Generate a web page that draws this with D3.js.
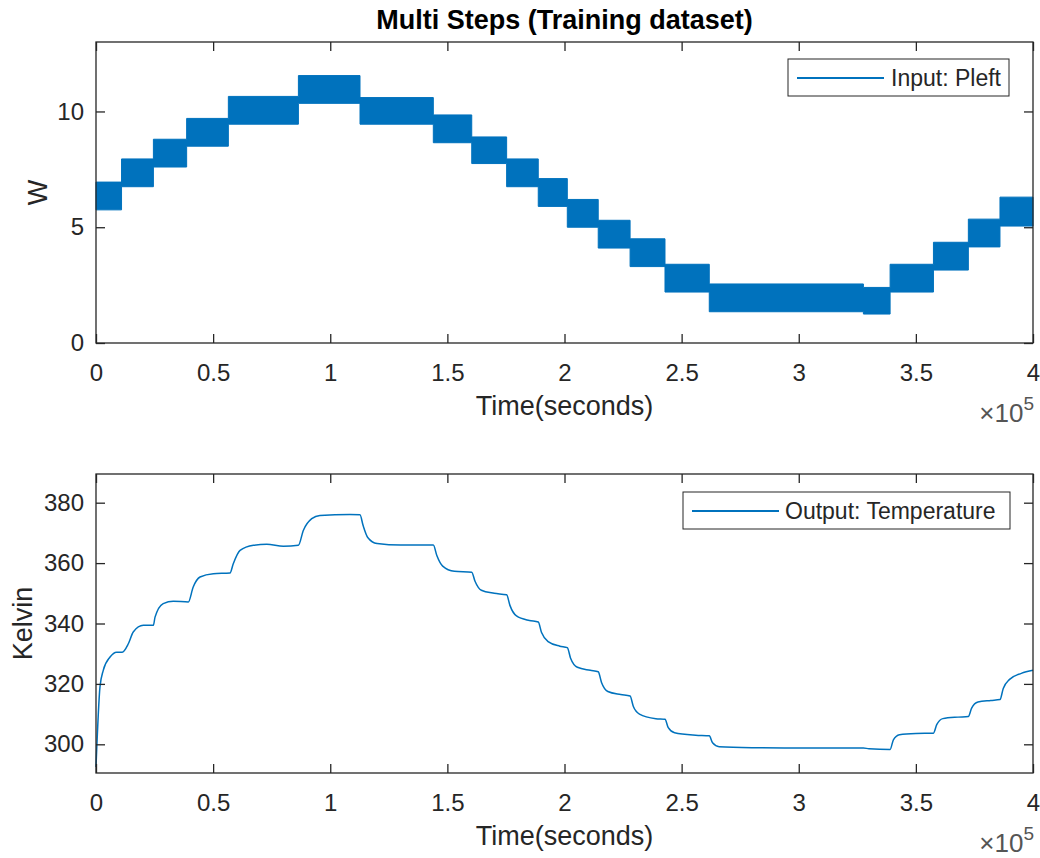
<!DOCTYPE html>
<html>
<head>
<meta charset="utf-8">
<script src="https://cdn.jsdelivr.net/npm/d3@7"></script>
<style>
  body { margin: 0; background: #fff; }
  text { font-family: "Liberation Sans", Arial, Helvetica, sans-serif; fill: #262626; }
</style>
</head>
<body>
<div id="chart"></div>
<script>
// ---- data ----
var chartTitle = "Multi Steps (Training dataset)";
var xTicks = [0, 50000, 100000, 150000, 200000, 250000, 300000, 350000, 400000];

// input Pleft: noisy steps, kept as a band (low / high edge) per step
var pleftStart = [0, 10900, 24500, 38700, 56500, 86400, 112700, 144000, 160400, 175300, 188800,
                  201200, 214400, 228000, 242900, 261800, 327600, 339000, 357500, 372400, 385900, 400000];
var pleftLow  = [5.75, 6.75, 7.6, 8.5, 9.45, 10.35, 9.45, 8.65, 7.75, 6.75, 5.9,
                 5.0, 4.1, 3.3, 2.2, 1.35, 1.25, 2.2, 3.15, 4.15, 5.05, 5.05];
var pleftHigh = [6.95, 7.95, 8.8, 9.7, 10.65, 11.55, 10.6, 9.85, 8.9, 7.95, 7.1,
                 6.2, 5.3, 4.5, 3.4, 2.55, 2.4, 3.4, 4.35, 5.35, 6.3, 6.3];
var wTicks = [0, 5, 10];

// output temperature
var tempTime = [0, 1700, 3100, 6000, 8800, 11200, 13800, 15900, 20200, 24500, 25200, 28700, 33000, 39400,
                41500, 44400, 50100, 57200, 58600, 61500, 67200, 72900, 80000, 86400, 88500, 92100, 95600,
                108400, 112700, 114000, 116000, 120000, 130000, 144000, 145500, 148000, 153000, 160400,
                161800, 164500, 170000, 175300, 176700, 179500, 185000, 188800, 190200, 193000, 198000,
                201200, 202600, 205500, 211000, 214400, 215800, 218500, 224000, 228000, 229400, 232000,
                239000, 242900, 244300, 247000, 256000, 261800, 263200, 266000, 280000, 300000, 327600,
                330000, 339000, 340400, 343000, 350000, 357500, 358900, 361500, 368000, 372400, 373800,
                376500, 382000, 385900, 387300, 390000, 395000, 400000];
var tempValue = [292.5, 319, 324.5, 328.9, 330.5, 330.5, 333.3, 337.2, 339.4, 339.4, 342.1, 346.6, 347.4, 347.1,
                 352.1, 355.4, 356.5, 356.7, 359.8, 364.2, 365.9, 366.2, 365.6, 365.9, 370.8, 374.7, 375.8,
                 376.1, 376.0, 372.5, 368.5, 366.5, 366.0, 366.0, 362.5, 359.0, 357.3, 357.0,
                 354.0, 351.0, 350.0, 349.5, 346.0, 342.5, 341.0, 340.5, 337.0, 334.0, 332.5,
                 332.0, 328.5, 325.5, 324.5, 324.0, 320.5, 317.5, 316.5, 316.0, 312.5, 310.0,
                 308.5, 308.3, 305.5, 303.8, 303.0, 302.8, 300.5, 299.2, 298.9, 298.8, 298.8,
                 298.5, 298.3, 301.5, 303.2, 303.6, 303.7, 306.5, 308.5, 309.0, 309.2, 312.0,
                 314.0, 314.5, 314.8, 318.5, 321.5, 323.5, 324.5];
var kTicks = [300, 320, 340, 360, 380];

var lineColor = "#0072BD";
var axisColor = "#262626";

var svg = d3.select("#chart").append("svg")
    .attr("width", 1040)
    .attr("height", 858);

svg.append("rect").attr("width", 1040).attr("height", 858).attr("fill", "#fff");

// title
svg.append("text")
    .attr("x", 564.5).attr("y", 29)
    .attr("text-anchor", "middle")
    .style("font-size", "27px")
    .style("font-weight", "bold")
    .style("fill", "#000")
    .text(chartTitle);

function drawPanel(box, yDomain, yTickValues, yLabel, yLabelX) {
    var x = d3.scaleLinear().domain([0, 400000]).range([box.left, box.right]);
    var y = d3.scaleLinear().domain(yDomain).range([box.bottom, box.top]);
    var g = svg.append("g");

    // bottom axis with labels
    var bottom = g.append("g")
        .attr("transform", "translate(0," + box.bottom + ")")
        .call(d3.axisBottom(x).tickValues(xTicks).tickSizeInner(-9).tickSizeOuter(0).tickPadding(21)
            .tickFormat(function (d) { return d / 1e5; }));
    // top ticks only
    var top = g.append("g")
        .attr("transform", "translate(0," + box.top + ")")
        .call(d3.axisTop(x).tickValues(xTicks).tickSizeInner(-9).tickSizeOuter(0).tickFormat(""));
    var left = g.append("g")
        .attr("transform", "translate(" + box.left + ",0)")
        .call(d3.axisLeft(y).tickValues(yTickValues).tickSizeInner(-9).tickSizeOuter(0).tickPadding(12));
    var right = g.append("g")
        .attr("transform", "translate(" + box.right + ",0)")
        .call(d3.axisRight(y).tickValues(yTickValues).tickSizeInner(-9).tickSizeOuter(0).tickFormat(""));

    [bottom, top, left, right].forEach(function (a) {
        a.select(".domain").remove();
        a.selectAll("line").attr("stroke", axisColor).attr("stroke-width", 1.3);
        a.selectAll("text").style("font-size", "24px").style("fill", axisColor)
            .style("font-family", "'Liberation Sans', Arial, Helvetica, sans-serif");
    });

    // frame
    g.append("rect")
        .attr("x", box.left).attr("y", box.top)
        .attr("width", box.right - box.left).attr("height", box.bottom - box.top)
        .attr("fill", "none").attr("stroke", axisColor).attr("stroke-width", 1.3);

    // x label
    g.append("text")
        .attr("x", (box.left + box.right) / 2).attr("y", box.bottom + 72)
        .attr("text-anchor", "middle")
        .style("font-size", "27px")
        .text("Time(seconds)");

    // x10^5
    var mult = g.append("text")
        .attr("x", box.right + 1).attr("y", box.bottom + 79)
        .attr("text-anchor", "end")
        .style("font-size", "26px")
        .style("fill", "#555");
    mult.append("tspan").text("\u00d710");
    mult.append("tspan").attr("dy", -12).style("font-size", "19px").text("5");

    // y label
    g.append("text")
        .attr("transform", "translate(" + yLabelX + "," + ((box.top + box.bottom) / 2) + ") rotate(-90)")
        .attr("text-anchor", "middle")
        .style("font-size", "27px")
        .text(yLabel);

    return { x: x, y: y, g: g };
}

// ---- top panel: input ----
var p1 = drawPanel({ left: 96, right: 1033, top: 42, bottom: 343 }, [0, 13], wTicks, "W", 47);

var band = pleftStart.map(function (t, i) { return { t: t, lo: pleftLow[i], hi: pleftHigh[i] }; });
p1.g.insert("path", ":first-child")
    .datum(band)
    .attr("fill", lineColor)
    .attr("stroke", lineColor)
    .attr("stroke-width", 1)
    .attr("d", d3.area()
        .curve(d3.curveStepAfter)
        .x(function (d) { return p1.x(d.t); })
        .y0(function (d) { return p1.y(d.lo); })
        .y1(function (d) { return p1.y(d.hi); }));

// legend
p1.g.append("rect").attr("x", 788).attr("y", 59).attr("width", 221).attr("height", 37)
    .attr("fill", "#fff").attr("stroke", axisColor).attr("stroke-width", 1);
p1.g.append("line").attr("x1", 797).attr("x2", 884).attr("y1", 78).attr("y2", 78)
    .attr("stroke", lineColor).attr("stroke-width", 2);
p1.g.append("text").attr("x", 891).attr("y", 86).style("font-size", "23px").text("Input: Pleft");

// ---- bottom panel: output ----
var p2 = drawPanel({ left: 96, right: 1033, top: 474, bottom: 773 }, [290.5, 389.5], kTicks, "Kelvin", 32);

var temp = tempTime.map(function (t, i) { return { t: t, v: tempValue[i] }; });
p2.g.insert("path", ":first-child")
    .datum(temp)
    .attr("fill", "none")
    .attr("stroke", lineColor)
    .attr("stroke-width", 1.5)
    .attr("d", d3.line()
        .curve(d3.curveMonotoneX)
        .x(function (d) { return p2.x(d.t); })
        .y(function (d) { return p2.y(d.v); }));

p2.g.append("rect").attr("x", 683).attr("y", 492).attr("width", 327).attr("height", 37)
    .attr("fill", "#fff").attr("stroke", axisColor).attr("stroke-width", 1);
p2.g.append("line").attr("x1", 692).attr("x2", 779).attr("y1", 511).attr("y2", 511)
    .attr("stroke", lineColor).attr("stroke-width", 2);
p2.g.append("text").attr("x", 785).attr("y", 519).style("font-size", "23px").text("Output: Temperature");
</script>
</body>
</html>
